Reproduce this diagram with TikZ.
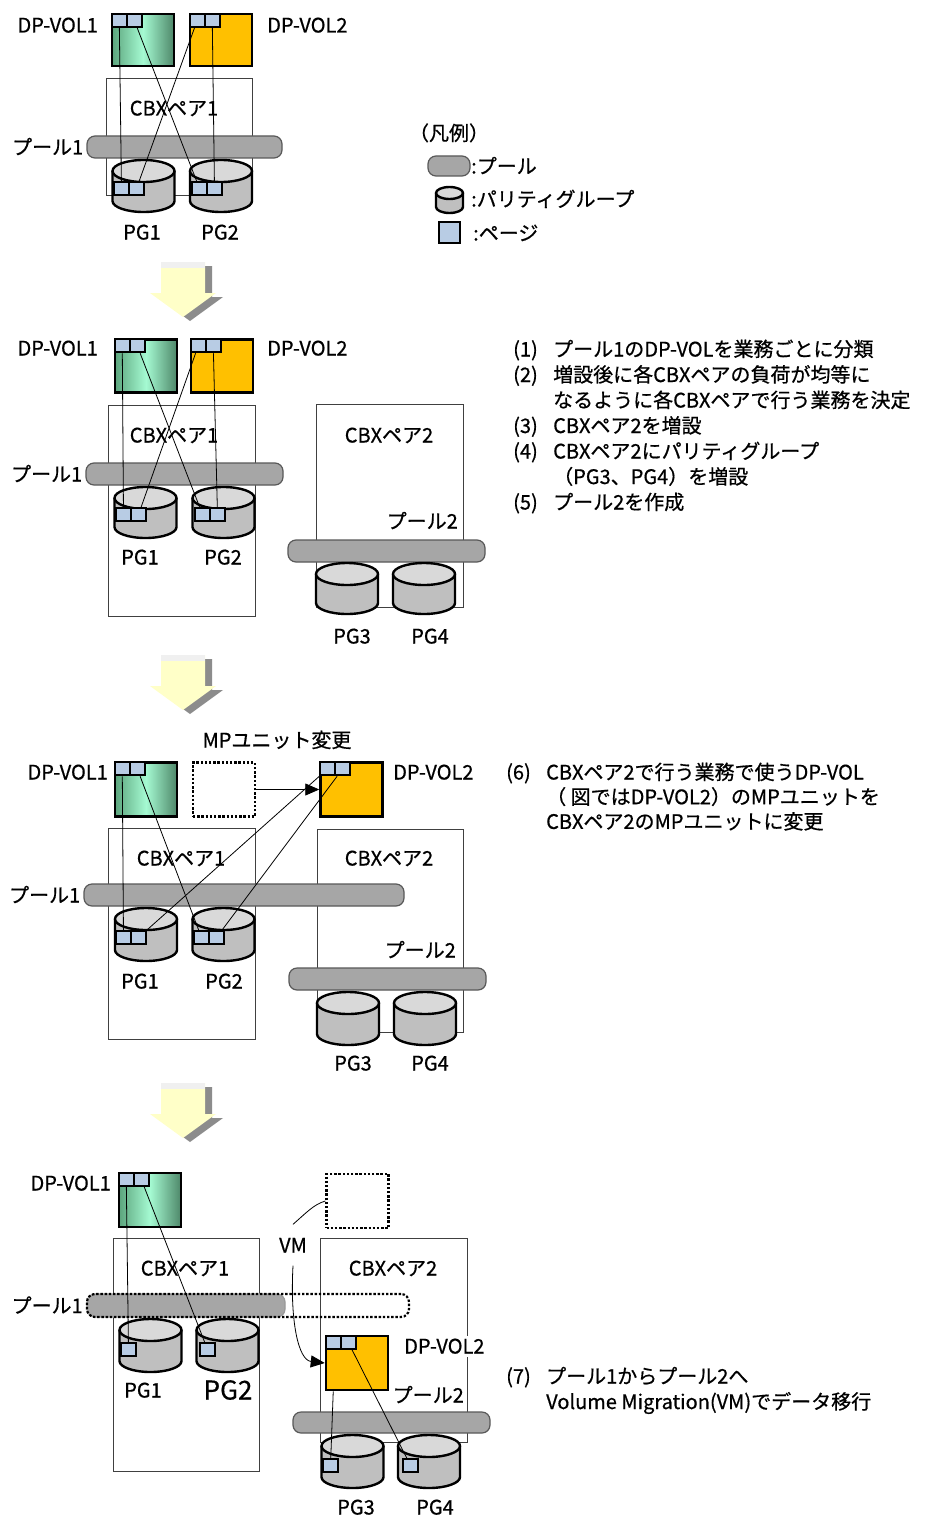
\documentclass[tikz,border=0pt]{standalone}
\usepackage{fontspec}
\setmainfont{Noto Sans CJK JP}[FakeBold=0.6]
\usetikzlibrary{positioning, arrows.meta, calc}
\definecolor{volgreen}{RGB}{92,165,125}
\definecolor{volmint}{RGB}{165,250,210}
\definecolor{voldark}{RGB}{78,135,105}
\definecolor{volorange}{RGB}{255,192,0}
\definecolor{pageblue}{RGB}{184,204,228}
\definecolor{poolgray}{RGB}{166,166,166}
\definecolor{cyltop}{RGB}{217,217,217}
\definecolor{cylbody}{RGB}{191,191,191}
\definecolor{arrowyellow}{RGB}{255,255,200}

\tikzset{
  every node/.append style={font=\fontsize{20}{25}\selectfont},
  lbl/.style={inner sep=1pt, text height=17pt, text depth=2pt},
  dpvol/.style={draw, line width=2.5pt, minimum width=62pt, minimum height=53pt, inner sep=0pt},
  volA/.style={dpvol, left color=volgreen, right color=voldark, middle color=volmint},
  volB/.style={dpvol, fill=volorange},
  ghost/.style={dpvol, line width=2.2pt, dash pattern=on 2.4pt off 1.8pt},
  pagebox/.style={draw, line width=2pt, fill=pageblue, minimum width=15pt, minimum height=13pt, inner sep=0pt},
  cbx/.style={draw=black!75, line width=0.9pt, inner sep=0pt},
  pool/.style={draw=black!65, line width=1.2pt, fill=poolgray, rounded corners=8pt, inner sep=0pt, minimum height=22pt},
  cylline/.style={line width=2.4pt, line join=round},
  link/.style={line width=0.8pt},
  mparrow/.style={-{Triangle[length=14pt,width=12pt]}},
}

% centre x, top y, x radius, y radius, height
\newcommand{\pgcyl}[5]{%
  \fill[cylbody] (#1-#3,#2+#4) -- (#1-#3,#2+#5-#4)
    arc[start angle=180, end angle=0, x radius=#3, y radius=#4] -- (#1+#3,#2+#4) -- cycle;
  \draw[cylline] (#1-#3,#2+#4) -- (#1-#3,#2+#5-#4)
    arc[start angle=180, end angle=0, x radius=#3, y radius=#4] -- (#1+#3,#2+#4);
  \filldraw[cylline, fill=cyltop] (#1,#2+#4) ellipse[x radius=#3, y radius=#4];
}
% two pages side by side, north west corner at #2
\newcommand{\pagepair}[2]{%
  \node[pagebox, anchor=north west] (#1-1) at (#2) {};
  \node[pagebox, right=-2pt of #1-1] (#1-2) {};
}
% big down arrow, shaft centre x, top y
\newcommand{\bigdown}[2]{%
  \fill[black!45] (#1-15,#2+4) -- (#1+29,#2+4) -- (#1+29,#2+35) -- (#1+40,#2+35) -- (#1+7,#2+59) -- (#1-26,#2+35) -- (#1-15,#2+35) -- cycle;
  \fill[arrowyellow] (#1-22,#2) -- (#1+22,#2) -- (#1+22,#2+31) -- (#1+33,#2+31) -- (#1,#2+55) -- (#1-33,#2+31) -- (#1-22,#2+31) -- cycle;
  \fill[black!6] (#1-22,#2) rectangle (#1+22,#2+6);
}
\newcommand{\itemno}[1]{\makebox[40pt][l]{#1}}

\begin{document}
\begin{tikzpicture}[x=1pt, y=-1pt]
\fill[white] (0,0) rectangle (926,1517);
\useasboundingbox (0,0) rectangle (926,1517);

%first stage
\node[cbx, minimum width=146pt, minimum height=117pt] (cbx1A) at (179,136.5) {};
\node[lbl] (tc1A) at (174,108) {CBXペア1};
\node[pool, minimum width=195pt] (pool1A) at (184.5,147) {};
\node[lbl, left=2pt of pool1A] (lp1A) {プール1};
\pgcyl{143.5}{160}{31}{11}{52}
\pgcyl{221}{160}{31}{11}{52}
\node[volA, minimum height=52pt] (vol1A) at (143,40) {};
\node[volB, minimum height=52pt] (vol2A) at (221,40) {};
\node[lbl, anchor=east] (lv1A) at (99,25) {DP-VOL1};
\node[lbl, anchor=west] (lv2A) at (266,25) {DP-VOL2};
\pagepair{vol1A}{vol1A.north west}
\pagepair{vol2A}{vol2A.north west}
\pagepair{pg1A}{113,181}
\pagepair{pg2A}{191,181}
\node[lbl] (n1A) at (142,232) {PG1};
\node[lbl] (n2A) at (220,232) {PG2};
\draw[link] (vol1A-1) -- (pg1A-1);
\draw[link] (vol1A-2) -- (pg2A-1);
\draw[link] (vol2A-1) -- (pg1A-2);
\draw[link] (vol2A-2) -- (pg2A-2);

%legend
\node[lbl] (legend) at (449,133) {（凡例）};
\node[pool, minimum width=42pt, minimum height=20pt] (lgpool) at (449,166) {};
\node[lbl, anchor=west] (lgt1) at (470,166) {:プール};
\pgcyl{449.5}{187}{13.5}{6}{26}
\node[lbl, anchor=west] (lgt2) at (470,199) {:パリティグループ};
\node[pagebox, line width=2.5pt, minimum width=21pt, minimum height=21pt] (lgpage) at (449.5,232.5) {};
\node[lbl, anchor=west] (lgt3) at (472,233) {:ページ};

\bigdown{183}{262}

%second stage
\node[cbx, minimum width=147pt, minimum height=211pt] (cbx1B) at (181.5,510.5) {};
\node[cbx, minimum width=147pt, minimum height=203pt] (cbx2B) at (389.5,505.5) {};
\node[lbl] (tc1B) at (174,435) {CBXペア1};
\node[lbl] (tc2B) at (389,435) {CBXペア2};
\node[pool, minimum width=197pt] (pool1B) at (184.5,474) {};
\node[lbl, left=2pt of pool1B] (lp1B) {プール1};
\node[lbl, anchor=east] (lp2B) at (459,521) {プール2};
\node[pool, minimum width=197pt] (pool2B) at (386.5,551) {};
\pgcyl{145.5}{487}{31}{11}{51}
\pgcyl{223.5}{487}{31}{11}{51}
\pgcyl{347}{563}{31}{11}{51}
\pgcyl{424}{563}{31}{11}{51}
\node[volA] (vol1B) at (146,366) {};
\node[volB] (vol2B) at (222,366) {};
\node[lbl, anchor=east] (lv1B) at (99,348) {DP-VOL1};
\node[lbl, anchor=west] (lv2B) at (266,348) {DP-VOL2};
\pagepair{vol1B}{vol1B.north west}
\pagepair{vol2B}{vol2B.north west}
\pagepair{pg1B}{115,507}
\pagepair{pg2B}{194,507}
\node[lbl] (n1B) at (140,557) {PG1};
\node[lbl] (n2B) at (223,557) {PG2};
\node[lbl] (n3B) at (352,636) {PG3};
\node[lbl] (n4B) at (430,636) {PG4};
\draw[link] (vol1B-1) -- (pg1B-1);
\draw[link] (vol1B-2) -- (pg2B-1);
\draw[link] (vol2B-1) -- (pg1B-2);
\draw[link] (vol2B-2) -- (pg2B-2);
\foreach \txt [count=\k] in {
  {\itemno{(1)}プール1のDP-VOLを業務ごとに分類},
  {\itemno{(2)}増設後に各CBXペアの負荷が均等に},
  {\itemno{}なるように各CBXペアで行う業務を決定},
  {\itemno{(3)}CBXペア2を増設},
  {\itemno{(4)}CBXペア2にパリティグループ},
  {\itemno{}（PG3、PG4）を増設},
  {\itemno{(5)}プール2を作成}}
  \node[lbl, anchor=west] (stepB\k) at (512,349+25.5*\k-25.5) {\txt};

\bigdown{183}{655}

%third stage
\node[lbl] (mpC) at (277,740) {MPユニット変更};
\node[cbx, minimum width=147pt, minimum height=211pt] (cbx1C) at (181.5,933.5) {};
\node[cbx, minimum width=146pt, minimum height=203pt] (cbx2C) at (390,930.5) {};
\node[lbl] (tc1C) at (181,858) {CBXペア1};
\node[lbl] (tc2C) at (389,858) {CBXペア2};
\node[pool, minimum width=320pt] (pool1C) at (244,895) {};
\node[lbl, left=2pt of pool1C] (lp1C) {プール1};
\node[lbl, anchor=east] (lp2C) at (457,950) {プール2};
\node[pool, minimum width=197pt] (pool2C) at (387.5,979) {};
\pgcyl{146}{908}{31}{11}{53}
\pgcyl{223.5}{908}{31}{11}{53}
\pgcyl{348}{992}{31}{11}{53}
\pgcyl{425}{992}{31}{11}{53}
\node[volA, minimum height=54pt] (vol1C) at (146,789.5) {};
\node[ghost, minimum height=54pt] (ghostC) at (224,789.5) {};
\node[volB, minimum height=54pt] (vol2C) at (351.5,789.5) {};
\node[lbl, anchor=east] (lv1C) at (109,772) {DP-VOL1};
\node[lbl, anchor=west] (lv2C) at (392,772) {DP-VOL2};
\pagepair{vol1C}{vol1C.north west}
\pagepair{vol2C}{vol2C.north west}
\pagepair{pg1C}{115,930}
\pagepair{pg2C}{193,930}
\node[lbl] (n1C) at (140,981) {PG1};
\node[lbl] (n2C) at (224,981) {PG2};
\node[lbl] (n3C) at (353,1063) {PG3};
\node[lbl] (n4C) at (430,1063) {PG4};
\draw[link, mparrow] (ghostC) -- (vol2C);
\draw[link] (vol1C-1) -- (pg1C-1);
\draw[link] (vol1C-2) -- (pg2C-1);
\draw[link] (vol2C-1) -- (pg1C-2);
\draw[link] (vol2C-2) -- (pg2C-2);
\foreach \txt [count=\k] in {
  {\itemno{(6)}CBXペア2で行う業務で使うDP-VOL},
  {\itemno{}（ 図ではDP-VOL2）のMPユニットを},
  {\itemno{}CBXペア2のMPユニットに変更}}
  \node[lbl, anchor=west] (stepC\k) at (505,772+24.7*\k-24.7) {\txt};

\bigdown{183}{1083}

%fourth stage
\node[cbx, minimum width=146pt, minimum height=233pt] (cbx1D) at (186,1354.5) {};
\node[cbx, minimum width=147pt, minimum height=204pt] (cbx2D) at (393.5,1340) {};
\node[lbl] (tc1D) at (185,1268) {CBXペア1};
\node[lbl] (tc2D) at (393,1268) {CBXペア2};
\node[pool, minimum width=198pt, minimum height=23pt, draw=black!40] (pool1D) at (186,1305.5) {};
\node[draw, line width=2.2pt, dash pattern=on 2.4pt off 1.8pt, rounded corners=8pt, inner sep=0pt,
  minimum width=322pt, minimum height=23pt] (pool1Dx) at (248,1305.5) {};
\node[lbl, left=2pt of pool1Dx] (lp1D) {プール1};
\node[pool, minimum width=197pt, minimum height=21pt] (pool2D) at (391.5,1422.5) {};
\pgcyl{150.5}{1319}{31}{11}{53}
\pgcyl{227.5}{1319}{31}{11}{53}
\pgcyl{352.5}{1435}{31}{11}{53}
\pgcyl{429}{1435}{31}{11}{53}
\node[volA, minimum height=54pt] (vol1D) at (150,1200) {};
\node[ghost, minimum height=54pt] (ghostD) at (357.5,1201) {};
\node[volB, minimum height=54pt] (vol2D) at (357,1363) {};
\node[lbl, anchor=east] (lv1D) at (112,1183) {DP-VOL1};
\node[lbl, anchor=west, fill=white] (lv2D) at (403,1346) {DP-VOL2};
\node[lbl, anchor=east] (lp2D) at (465,1395) {プール2};
\pagepair{vol1D}{vol1D.north west}
\pagepair{vol2D}{vol2D.north west}
\node[pagebox, anchor=north west] (pg1D) at (120,1342) {};
\node[pagebox, anchor=north west] (pg2D) at (199,1342) {};
\node[pagebox, anchor=north west] (pg3D) at (322,1458) {};
\node[pagebox, anchor=north west] (pg4D) at (402,1458) {};
\node[lbl] (n1D) at (143,1390) {PG1};
\node[inner sep=1pt, font=\fontsize{26}{30}\selectfont] (n2D) at (228,1390) {PG2};
\node[lbl] (n3D) at (356,1507) {PG3};
\node[lbl] (n4D) at (435,1507) {PG4};
\node[lbl] (vmD) at (293,1245) {VM};
\draw[link] (ghostD.west) .. controls (314,1204) and (305,1214) .. ([yshift=10pt]vmD.north);
\draw[link, mparrow] ([yshift=-10pt]vmD.south) .. controls (290,1320) and (298,1360) .. (vol2D.west);
\draw[link] (vol1D-1) -- (pg1D);
\draw[link] (vol1D-2) -- (pg2D);
\draw[link] (vol2D-1 |- vol2D.south) -- (pg3D);
\draw[link] (vol2D-2) -- (pg4D);
\foreach \txt [count=\k] in {
  {\itemno{(7)}プール1からプール2へ},
  {\itemno{}Volume Migration(VM)でデータ移行}}
  \node[lbl, anchor=west] (stepD\k) at (505,1376+25.5*\k-25.5) {\txt};
\end{tikzpicture}
\end{document}
